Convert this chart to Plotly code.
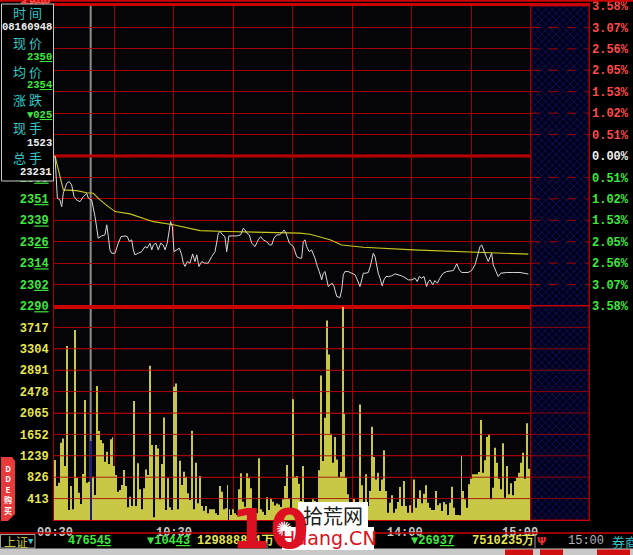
import plotly.graph_objects as go

W, H = 633, 555

# ---------------- data ----------------
pre_close = 2375
price_low, price_high = 2290, 2460
price_tick_labels = ["2290", "2302", "2314", "2326", "2339", "2351", "2363", "2375",
                     "2387", "2399", "2411", "2424", "2436", "2448", "2460"]
pct_tick_labels = ["3.58%", "3.07%", "2.56%", "2.05%", "1.53%", "1.02%", "0.51%", "0.00%",
                   "0.51%", "1.02%", "1.53%", "2.05%", "2.56%", "3.07%", "3.58%"]
vol_max = 4130
vol_tick_labels = ["", "413", "826", "1239", "1652", "2065", "2478", "2891", "3304", "3717", ""]
time_grid_minutes = [0, 30, 60, 90, 120, 150, 180, 210, 240]
time_tick_labels = ["09:30", "", "10:30", "", "", "", "14:00\u00a0\u00a0", "", "15:00\u00a0\u00a0\u00a0"]
session_minutes = 240
axis_end_minute = 269.3
cursor_minute = 18

# (minute offset from 09:30, price)
price_points = [
    (0, 2375), (1.2, 2351.1), (2.5, 2350.1), (3.4, 2346.3), (4.2, 2353.9), (5.9, 2359.5),
    (7.2, 2360.5), (8.4, 2358.6), (9.6, 2352), (10.9, 2350.1), (12.6, 2349.1), (14.3, 2352),
    (16, 2353.9), (16.8, 2351.1), (18.5, 2350.1), (20.2, 2340.6), (21.8, 2328.4), (23.5, 2329.7),
    (25.2, 2330.3), (26.1, 2336), (26.9, 2329.3), (27.7, 2321.8), (28.6, 2319.9), (30.3, 2319.9),
    (31.9, 2325.6), (33.3, 2329.3), (35.3, 2329.7), (36.5, 2329.3), (37.5, 2326.5), (38.7, 2327.5),
    (39.5, 2321.8), (40.3, 2319), (42, 2319.9), (43.7, 2320.8), (45.4, 2323.7), (46.5, 2322.8),
    (47.9, 2325.6), (48.8, 2321.8), (49.6, 2324.6), (50.9, 2325.6), (52.1, 2321.8), (53.3, 2325.6),
    (54.6, 2324.6), (55.5, 2321.8), (56.6, 2325.6), (57.5, 2331.3), (58.3, 2337.8), (59.2, 2335),
    (60, 2320.8), (61.4, 2321.8), (62.7, 2322.8), (63.9, 2319), (64.7, 2314.3), (65.6, 2312.4),
    (66.7, 2315.2), (68.1, 2314.3), (69.4, 2319.5), (70.6, 2315.2), (71.5, 2319), (72.6, 2312.4),
    (74, 2315.2), (75.6, 2314.3), (77.3, 2314.3), (79, 2318), (80.7, 2320.8), (82.4, 2331.3),
    (83.2, 2332.2), (84.6, 2330.3), (85.7, 2329.3), (86.6, 2320.8), (87.7, 2329.7), (91.6, 2329.7),
    (93.6, 2330.3), (95, 2334.1), (95.8, 2333.1), (96.7, 2331.3), (98, 2330.3), (99.2, 2325.6),
    (100.9, 2323.7), (102.5, 2327.5), (103.7, 2329.3), (105, 2327.5), (106.7, 2326.5), (108.1, 2324.6),
    (109.3, 2324.6), (110.4, 2328.4), (111.8, 2330.3), (113.1, 2330.3), (114.3, 2331.3), (115.5, 2333.1),
    (116.5, 2331.3), (117.1, 2329.3), (118.2, 2325.6), (120.2, 2323.7), (121.9, 2318), (123.5, 2317.1),
    (124.4, 2317.1), (125.2, 2326.5), (126.1, 2327.5), (126.9, 2323.7), (128.2, 2320.8), (129.4, 2321.8),
    (131.1, 2317.1), (132.3, 2312.4), (133.3, 2309.5), (134.5, 2304.8), (135.3, 2308.6), (136.2, 2309.5),
    (137, 2303.9), (137.8, 2301), (138.7, 2302), (139.8, 2302.9), (140.7, 2301), (142.1, 2295.4),
    (143.7, 2294.8), (144.6, 2299.2), (145.4, 2307.7), (146.2, 2309.5), (147.9, 2309.5), (149.6, 2308.6),
    (151.3, 2307.7), (152.5, 2304.8), (153.8, 2301), (154.7, 2304.8), (155.5, 2308.6), (156.8, 2308.6),
    (158, 2309), (159.2, 2313.3), (160.5, 2319.9), (161.4, 2318), (162.2, 2313.3), (163, 2308.6),
    (163.9, 2305.8), (165, 2301.4), (165.9, 2304.8), (166.9, 2306.7), (168.1, 2306.7), (169.8, 2307.1),
    (171.5, 2308.2), (173.1, 2307.7), (174.8, 2307.1), (176.5, 2306.1), (178.2, 2304.8), (179.9, 2304.8),
    (181.5, 2305.8), (182.7, 2303.9), (183.7, 2306.7), (184.9, 2305.8), (186.1, 2306.7), (187.4, 2301),
    (188.3, 2303.9), (189.1, 2304.8), (190.5, 2302), (191.6, 2304.4), (192.8, 2302.9), (194.1, 2305.8),
    (195.8, 2308.6), (197.5, 2309.5), (200.9, 2310.1), (202.6, 2313.9), (203.9, 2310.5), (205.1, 2309),
    (208.4, 2309), (210.1, 2310.1), (211.8, 2313.3), (213.2, 2319), (214.3, 2323.7), (215.2, 2324.6),
    (216, 2321.8), (217.3, 2318.4), (218.5, 2315.2), (219.4, 2318.4), (220.2, 2319.9), (221, 2313.3),
    (222.4, 2309.5), (223.5, 2306.7), (224.8, 2308.6), (227.8, 2309), (231.1, 2309), (234.5, 2309),
    (238.7, 2308.1),
]

avg_points = [
    (0, 2375), (1.7, 2367.1), (3.4, 2359.5), (4.2, 2355.8), (10.9, 2355.4), (16, 2354.2),
    (19.3, 2353.9), (22.7, 2350.1), (26.9, 2346.3), (30.3, 2343.5), (37.8, 2342.2), (44.5, 2339.7),
    (49.6, 2337.8), (59.7, 2336), (68.1, 2334.1), (73.1, 2332.7), (86.6, 2332.2), (98.3, 2332),
    (115.1, 2331.8), (123.5, 2331.3), (128.6, 2330.7), (133.6, 2329.3), (138.7, 2327.5), (144.6, 2324.6),
    (155.5, 2323.3), (180.7, 2321.8), (205.9, 2320.8), (222.7, 2320.3), (238.7, 2319.4),
]

volume = [
    1157, 656, 720, 1492, 1575, 1042, 3356, 193, 656, 206,
    3665, 817, 527, 309, 887, 2315, 720, 740, 1523, 836,
    482, 2585, 1717, 1543, 1479, 1125, 1318, 1080, 1556, 1595,
    1042, 868, 547, 579, 675, 965, 656, 244, 450, 270,
    2296, 270, 1093, 592, 206, 611, 977, 868, 2977, 1447,
    51, 1447, 1382, 399, 1080, 1980, 193, 804, 244, 193,
    2572, 2636, 206, 1145, 675, 932, 836, 514, 386, 1723,
    206, 1106, 321, 849, 270, 180, 270, 129, 206, 206,
    206, 129, 96, 656, 547, 206, 225, 675, 206, 96,
    206, 129, 96, 592, 900, 354, 257, 900, 804, 611,
    129, 225, 129, 1190, 206, 161, 96, 437, 193, 418,
    350, 280, 320, 300, 250, 399, 656, 1061, 418, 219,
    2330, 836, 849, 701, 367, 1042, 300, 270, 350, 300,
    400, 367, 334, 958, 2791, 1138, 1974, 3852, 3196, 1665,
    1106, 1601, 1170, 829, 926, 4109, 2051, 817, 495, 283,
    100, 411, 77, 141, 2231, 669, 45, 881, 270, 559,
    1800, 1215, 784, 913, 559, 784, 1344, 559, 141, 334,
    476, 141, 219, 347, 637, 270, 752, 270, 141, 283,
    141, 784, 238, 411, 572, 321, 508, 669, 334, 238,
    193, 193, 559, 283, 321, 174, 347, 302, 96, 334,
    643, 238, 96, 96, 90, 1247, 559, 399, 238, 688,
    797, 881, 881, 881, 926, 1929, 913, 1151, 1601, 1653,
    399, 624, 1395, 1106, 797, 592, 1479, 431, 1042, 495,
    707, 476, 752, 817, 913, 1106, 1299, 797, 1865, 990,
]

info_labels = ["时 间", "现 价", "均 价", "涨 跌", "现 手", "总 手"]
info_values = ["08160948", "23<u>50</u>", "23<u>54</u>", "▼0<u>25</u>", "1523", "23231"]
status_texts = ["4765<u>45</u>", "▼104<u>43</u>", "129888821万", "▼269<u>37</u>", "7510235万", "15:00"]

# ---------------- styling helpers ----------------
MONO = "Liberation Mono"
CJK = "Noto Sans CJK SC"
RED_T, GREEN_T, WHITE_T, YELLOW_T, CYAN_T = "#ff4a4a", "#3ee83e", "#f0f0f0", "#e6e650", "#30c8c8"
GRID = "#a40000"
BORDER = "#cc0000"


def px(x):
    return x / W


def py(y):
    return 1 - y / H


def span(t, c):
    return f"<span style='color:{c}'>{t}</span>"


n_ticks = len(price_tick_labels)
price_tickvals = [price_low + k * (price_high - price_low) / (n_ticks - 1) for k in range(n_ticks)]
mid = n_ticks // 2


def tick_color(k):
    return GREEN_T if k < mid else (WHITE_T if k == mid else RED_T)


left_ticktext = [span(t[:2] + "<u>" + t[2:] + "</u>", tick_color(k)) for k, t in enumerate(price_tick_labels)]
right_ticktext = [span(t, tick_color(k)) for k, t in enumerate(pct_tick_labels)]
vol_tickvals = [vol_max * k / (len(vol_tick_labels) - 1) for k in range(len(vol_tick_labels))]

minutes = list(range(len(volume)))
bar_colors = ["#1c1c86" if m == cursor_minute else "#c8c846" for m in minutes]

XDOM = [px(54), px(589)]
PRICE_DOM = [py(306), py(6)]
VOL_DOM = [py(520), py(306)]
XRANGE = [-0.5, axis_end_minute]

fig = go.Figure()

hatch_mid = (session_minutes + axis_end_minute) / 2
hatch_w = axis_end_minute - session_minutes
hatch_marker = dict(color="#000020", line=dict(color=GRID, width=1),
                    pattern=dict(shape="x", fgcolor="#2b2bb0", bgcolor="#00001c", size=5, solidity=0.25))
fig.add_trace(go.Bar(x=[hatch_mid], y=[price_high - price_low], base=[price_low], width=[hatch_w],
                     marker=hatch_marker, xaxis="x", yaxis="y", hoverinfo="skip", showlegend=False))
fig.add_trace(go.Bar(x=[hatch_mid], y=[vol_max], base=[0], width=[hatch_w],
                     marker=hatch_marker, xaxis="x2", yaxis="y2", hoverinfo="skip", showlegend=False))

fig.add_trace(go.Bar(x=minutes, y=volume, width=0.5, marker=dict(color=bar_colors, line=dict(width=0)),
                     xaxis="x2", yaxis="y2", hoverinfo="skip", showlegend=False))

fig.add_trace(go.Scatter(x=[p[0] for p in avg_points], y=[p[1] for p in avg_points], mode="lines",
                         line=dict(color="#c8c820", width=1.1), xaxis="x", yaxis="y",
                         hoverinfo="skip", showlegend=False))
fig.add_trace(go.Scatter(x=[p[0] for p in price_points], y=[p[1] for p in price_points], mode="lines",
                         line=dict(color="#d8d8d8", width=1), xaxis="x", yaxis="y",
                         hoverinfo="skip", showlegend=False))
# dummy trace so the right-hand percentage axis renders
fig.add_trace(go.Scatter(x=[None], y=[None], xaxis="x", yaxis="y3", showlegend=False, hoverinfo="skip"))

tickfont = dict(family=MONO, size=12, weight="bold")

fig.update_layout(
    width=W, height=H, margin=dict(l=0, r=0, t=0, b=0, pad=0, autoexpand=False),
    paper_bgcolor="#000000", plot_bgcolor="#050508",
    barmode="overlay", showlegend=False, hovermode=False,
    xaxis=dict(domain=XDOM, range=XRANGE, anchor="y", tickvals=time_grid_minutes, showticklabels=False,
               showgrid=True, gridcolor=GRID, gridwidth=1, zeroline=False, automargin=False,
               showline=True, mirror=True, linecolor=BORDER, linewidth=3, ticks=""),
    yaxis=dict(domain=PRICE_DOM, range=[price_low, price_high], anchor="x", tickvals=price_tickvals,
               ticktext=left_ticktext, tickfont=tickfont, showgrid=True, gridcolor=GRID, zeroline=False,
               automargin=False, showline=True, mirror=True, linecolor=GRID, linewidth=1, ticks="",
               ticklabelstandoff=2),
    yaxis3=dict(overlaying="y", side="right", anchor="x", range=[price_low, price_high], tickvals=price_tickvals,
                ticktext=right_ticktext, tickfont=tickfont, showgrid=False, zeroline=False, ticks="",
                automargin=False, ticklabelstandoff=2),
    xaxis2=dict(domain=XDOM, range=XRANGE, anchor="y2", tickvals=time_grid_minutes, ticktext=time_tick_labels,
                tickfont=dict(family=MONO, size=12, weight="bold", color="#c8c8c8"),
                showgrid=True, gridcolor=GRID, zeroline=False, showline=True, mirror=True, automargin=False,
                linecolor=BORDER, linewidth=1, ticks="", ticklabelstandoff=1),
    yaxis2=dict(domain=VOL_DOM, range=[0, vol_max], anchor="x2", tickvals=vol_tickvals, ticktext=vol_tick_labels,
                tickfont=dict(family=MONO, size=12, weight="bold", color=YELLOW_T),
                showgrid=True, gridcolor=GRID, zeroline=False, showline=True, mirror=True, automargin=False,
                linecolor=GRID, linewidth=1, ticks="", ticklabelstandoff=2),
)

shapes = []
# pre-close reference line (thick)
shapes.append(dict(type="line", xref="x", yref="y", x0=XRANGE[0], x1=XRANGE[1], y0=pre_close, y1=pre_close,
                   line=dict(color=BORDER, width=3), layer="below"))
# volume grid drawn over the bars, and price grid over the hatched after-hours area
for v in vol_tickvals[1:-1]:
    shapes.append(dict(type="line", xref="x2", yref="y2", x0=XRANGE[0], x1=XRANGE[1], y0=v, y1=v,
                       line=dict(color=GRID, width=1), layer="above", opacity=0.85))
for pv in price_tickvals[1:-1]:
    if pv == pre_close:
        continue
    shapes.append(dict(type="line", xref="x", yref="y", x0=session_minutes, x1=XRANGE[1], y0=pv, y1=pv,
                       line=dict(color=GRID, width=1, dash="dash"), layer="above"))
# cursor line
shapes.append(dict(type="line", xref="x", yref="paper", x0=cursor_minute, x1=cursor_minute,
                   y0=py(520), y1=py(5), line=dict(color="#8c8c8c", width=2), layer="below"))
# top red line
shapes.append(dict(type="line", xref="paper", yref="paper", x0=0, x1=1, y0=py(0.8), y1=py(0.8),
                   line=dict(color=BORDER, width=2), layer="above"))
# info box
shapes.append(dict(type="rect", xref="paper", yref="paper", x0=px(1.5), x1=px(53.5), y0=py(181), y1=py(4),
                   fillcolor="#000000", line=dict(color="#c8c8c8", width=1), layer="above"))
# red line under time labels
shapes.append(dict(type="line", xref="paper", yref="paper", x0=0, x1=1, y0=py(533), y1=py(533),
                   line=dict(color=BORDER, width=1.5), layer="above"))
# status bar separators / box
shapes.append(dict(type="rect", xref="paper", yref="paper", x0=px(0.5), x1=px(35), y0=py(548), y1=py(534.5),
                   fillcolor="rgba(0,0,0,0)", line=dict(color="#a0a0a0", width=1), layer="above"))
for sx in (267, 535):
    shapes.append(dict(type="line", xref="paper", yref="paper", x0=px(sx), x1=px(sx), y0=py(548), y1=py(534.5),
                       line=dict(color="#a0a0a0", width=1), layer="above"))
# bottom strip
shapes.append(dict(type="rect", xref="paper", yref="paper", x0=0, x1=1, y0=0, y1=py(548.5),
                   fillcolor="#c8c8c8", line=dict(width=0), layer="above"))
for bx0, bx1 in ((505, 533), (540, 563), (597, 630)):
    shapes.append(dict(type="rect", xref="paper", yref="paper", x0=px(bx0), x1=px(bx1), y0=0, y1=py(549.5),
                       fillcolor="#d01010", line=dict(width=0), layer="above"))
# DDE tab
path = (f"M {px(1)},{py(457)} L {px(12)},{py(457)} L {px(15)},{py(461)} L {px(15)},{py(514)} "
        f"L {px(8)},{py(521)} L {px(1)},{py(521)} Z")
shapes.append(dict(type="path", xref="paper", yref="paper", path=path, fillcolor="#e83a3a",
                   line=dict(width=0), layer="above"))
# watermark backgrounds
shapes.append(dict(type="rect", xref="paper", yref="paper", x0=px(298), x1=px(368), y0=py(528), y1=py(502),
                   fillcolor="#ffffff", line=dict(width=0), layer="above"))
shapes.append(dict(type="rect", xref="paper", yref="paper", x0=px(282), x1=px(374), y0=py(550), y1=py(527),
                   fillcolor="#ffffff", line=dict(width=0), layer="above"))
fig.update_layout(shapes=shapes)

ann = []


def text(x, y, s, color, size=12, family=MONO, anchor="center", weight="bold", bg=None):
    d = dict(x=px(x), y=py(y), xref="paper", yref="paper", text=s, showarrow=False, xanchor=anchor,
             yanchor="middle", font=dict(family=family, size=size, color=color, weight=weight), borderpad=0)
    if bg:
        d["bgcolor"] = bg
    ann.append(d)


# top price label peeking above the box
text(52, 1, "2460", RED_T, anchor="right")

label_y = [13, 42, 71, 100, 128, 157]
value_y = [27, 57, 85, 115, 143, 172]
value_colors = [WHITE_T, GREEN_T, GREEN_T, GREEN_T, WHITE_T, WHITE_T]
for lab, ly in zip(info_labels, label_y):
    text(27, ly, lab, CYAN_T, size=13, family=CJK, weight="normal")
for val, vy, vc in zip(info_values, value_y, value_colors):
    text(52.5, vy, val, vc, size=10.5, anchor="right")

# status bar
text(3, 541, "上证", "#c8c840", size=12, family=CJK, anchor="left", weight="normal")
text(27, 542, "▼", CYAN_T, size=9, anchor="left")
text(112, 541, status_texts[0], GREEN_T, anchor="right")
text(191, 541, status_texts[1], GREEN_T, anchor="right")
text(196, 541, status_texts[2], YELLOW_T, anchor="left")
text(455, 541, status_texts[3], GREEN_T, anchor="right")
text(471, 541, status_texts[4], YELLOW_T, anchor="left")
text(541, 541, "Ψ", "#e03030", size=11, family="DejaVu Sans", weight="bold")
text(567, 541, status_texts[5], "#b4b4b4", anchor="left", weight="normal")
text(611, 541, "券商", CYAN_T, size=13, family=CJK, anchor="left", weight="normal")

# DDE tab text
text(8, 489, "D<br>D<br>E<br>购<br>买", "#ffffff", size=8, family=CJK, weight="bold")

# watermark
text(270, 528, "10", "#dc1020", size=56, family="DejaVu Sans", weight="bold")
text(284, 529, "✺", "#ffffff", size=20, family="DejaVu Sans", weight="normal")
text(333, 515, "拾荒网", "#202020", size=20, family=CJK, weight="normal")
text(329, 538, "Huang.CN", "#dc1020", size=19, family="DejaVu Sans", weight="normal")

fig.update_layout(annotations=ann)

fig.write_html("out.html", config={"displayModeBar": False},
               post_script="document.body.style.margin='0';document.body.style.overflow='hidden';")
